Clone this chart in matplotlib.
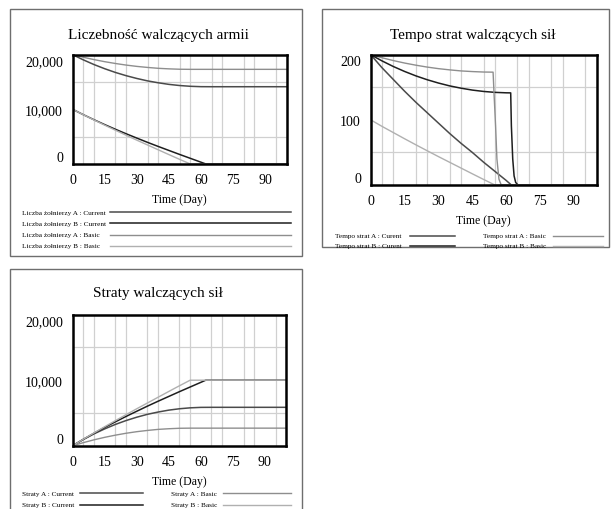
import matplotlib
matplotlib.use("Agg")
import matplotlib.pyplot as plt
from matplotlib.lines import Line2D
from matplotlib.patches import Rectangle

plt.rcParams['font.family'] = ['Liberation Serif', 'DejaVu Serif']

# --- data (days, values) ---
x_ticks = [0, 15, 30, 45, 60, 75, 90]
t5 = list(range(0, 101, 5))
days_b_cur = [0, 5, 10, 15, 20, 25, 30, 35, 40, 45, 50, 55, 60, 62.3, 100]
days_bas = [0, 5, 10, 15, 20, 25, 30, 35, 40, 45, 50, 55, 100]

# Liczebność walczących armii
liczba_a_current = [20000, 19050, 18190, 17430, 16750, 16160, 15650, 15210, 14860,
                    14570, 14360, 14220, 14150, 14140, 14140, 14140, 14140, 14140,
                    14140, 14140, 14140]
liczba_b_current = [10000, 9020, 8090, 7200, 6350, 5530, 4740, 3960, 3210, 2480,
                    1750, 1040, 330, 0, 0]
liczba_a_basic = [20000, 19530, 19100, 18720, 18390, 18100, 17860, 17670, 17510,
                  17410, 17340, 17320, 17320]
liczba_b_basic = [10000, 9010, 8050, 7100, 6170, 5260, 4360, 3480, 2600, 1720,
                  850, 0, 0]

# Tempo strat walczących sił
tempo_a_current = [200, 180, 162, 144, 127, 111, 95, 79, 64, 50, 35, 21, 7, 0, 0]
days_tb_cur = [0, 5, 10, 15, 20, 25, 30, 35, 40, 45, 50, 55, 60,
               62.0, 62.3, 62.9, 63.5, 64.2, 65.2, 100]
tempo_b_current = [200, 190.5, 181.9, 174.3, 167.5, 161.6, 156.5, 152.1, 148.6,
                   145.7, 143.6, 142.2, 141.5, 141.4, 91, 40, 14, 4, 0, 0]
tempo_a_basic = [100, 90, 80.5, 71, 61.7, 52.6, 43.6, 34.8, 26, 17.2, 8.5, 0, 0]
days_tb_bas = [0, 5, 10, 15, 20, 25, 30, 35, 40, 45, 50,
               54.2, 54.6, 55.3, 55.9, 56.8, 57.8, 100]
tempo_b_basic = [200, 195.3, 191, 187.2, 183.9, 181, 178.6, 176.7, 175.1, 174.1,
                 173.4, 173.2, 142, 91, 40, 9, 0, 0]

# Straty walczących sił
straty_a_current = [0, 950, 1810, 2570, 3250, 3840, 4350, 4790, 5140, 5430, 5640,
                    5780, 5850, 5860, 5860, 5860, 5860, 5860, 5860, 5860, 5860]
straty_b_current = [0, 980, 1910, 2800, 3650, 4470, 5260, 6040, 6790, 7520, 8250,
                    8960, 9670, 10000, 10000]
straty_a_basic = [0, 470, 900, 1280, 1610, 1900, 2140, 2330, 2490, 2590, 2660,
                  2680, 2680]
straty_b_basic = [0, 990, 1950, 2900, 3830, 4740, 5640, 6520, 7400, 8280, 9150,
                  10000, 10000]

C_A_CUR = '#4a4a4a'
C_B_CUR = '#1e1e1e'
C_A_BAS = '#8e8e8e'
C_B_BAS = '#b0b0b0'

W, H = 614, 510


def fx(px):
    return px / W


def fy(py):
    return 1 - py / H


def make_axes(fig, left, top, right, bottom, ymax, ylabels):
    ax = fig.add_axes([fx(left), fy(bottom), (right - left) / W, (bottom - top) / H])
    ax.set_xlim(0, 100)
    ax.set_ylim(0, ymax)
    ax.set_xticks(x_ticks)
    ax.set_xticklabels([str(t) for t in x_ticks], fontsize=10)
    ax.set_xticks(t5, minor=True)
    ax.set_yticks([0, ymax / 2, ymax])
    ax.set_yticklabels(ylabels, fontsize=10)
    ax.set_yticks([ymax * q / 4 for q in range(5)], minor=True)
    ax.grid(which='minor', color='#d0d0d0', lw=0.9)
    ax.tick_params(which='both', length=0)
    ax.tick_params(axis='x', pad=6.5)
    ax.tick_params(axis='y', pad=7)
    ticks = ax.yaxis.get_major_ticks()
    ticks[0].label1.set_va('bottom')
    ticks[-1].label1.set_va('top')
    for s in ax.spines.values():
        s.set_linewidth(1.8)
        s.set_color('black')
    ax.set_axisbelow(True)
    ax.set_xlabel('Time (Day)', fontsize=8.5, labelpad=5)
    return ax


def frame(fig, left, top, right, bottom):
    fig.add_artist(Rectangle((fx(left), fy(bottom)), (right - left) / W,
                             (bottom - top) / H, transform=fig.transFigure,
                             fill=False, ec='#6e6e6e', lw=1))


def legend_entry(fig, text, x_text, x0, x1, y, color, lw):
    fig.text(fx(x_text), fy(y), text, fontsize=5.2, va='center', ha='left')
    fig.add_artist(Line2D([fx(x0), fx(x1)], [fy(y), fy(y)],
                          transform=fig.transFigure, color=color, lw=lw))


def main():
    fig = plt.figure(figsize=(6.14, 5.10), dpi=100)

    # panel 1
    frame(fig, 10, 10, 302, 257)
    fig.text(fx(158), fy(35), 'Liczebność walczących armii', ha='center',
             va='center', fontsize=11)
    ax1 = make_axes(fig, 72.7, 55.7, 286.5, 165, 20000,
                    ['0', '10,000', '20,000'])
    ax1.plot(t5, liczba_a_current, color=C_A_CUR, lw=1.1)
    ax1.plot(days_b_cur, liczba_b_current, color=C_B_CUR, lw=1.1)
    ax1.plot(days_bas, liczba_a_basic, color=C_A_BAS, lw=1)
    ax1.plot(days_bas, liczba_b_basic, color=C_B_BAS, lw=1)
    rows = [('Liczba żołnierzy A : Current', C_A_CUR, 1.1),
            ('Liczba żołnierzy B : Current', C_B_CUR, 1.1),
            ('Liczba żołnierzy A : Basic', C_A_BAS, 1),
            ('Liczba żołnierzy B : Basic', C_B_BAS, 1)]
    for i, (txt, c, lw) in enumerate(rows):
        legend_entry(fig, txt, 21.5, 110, 291, 213.3 + i * 11.1, c, lw)

    # panel 2
    frame(fig, 322, 10, 609, 248)
    fig.text(fx(472.5), fy(35), 'Tempo strat walczących sił', ha='center',
             va='center', fontsize=11)
    ax2 = make_axes(fig, 370.7, 55.7, 596.5, 186, 200, ['0', '100', '200'])
    ax2.plot(days_b_cur, tempo_a_current, color=C_A_CUR, lw=1.1)
    ax2.plot(days_tb_cur, tempo_b_current, color=C_B_CUR, lw=1.1)
    ax2.plot(days_bas, tempo_a_basic, color=C_B_BAS, lw=1)
    ax2.plot(days_tb_bas, tempo_b_basic, color=C_A_BAS, lw=1)
    legend_entry(fig, 'Tempo strat A : Curent', 335, 410, 455, 236.7, C_A_CUR, 1.1)
    legend_entry(fig, 'Tempo strat B : Curent', 335, 410, 455, 246.7, C_B_CUR, 1.1)
    legend_entry(fig, 'Tempo strat A : Basic', 483, 553, 603, 236.7, C_A_BAS, 1)
    legend_entry(fig, 'Tempo strat B : Basic', 483, 553, 603, 246.7, C_B_BAS, 1)

    # panel 3
    frame(fig, 10, 270, 302, 520)
    fig.text(fx(157.5), fy(293.5), 'Straty walczących sił', ha='center',
             va='center', fontsize=11)
    ax3 = make_axes(fig, 72.7, 315.7, 286.2, 446.7, 20000,
                    ['0', '10,000', '20,000'])
    ax3.plot(t5, straty_a_current, color=C_A_CUR, lw=1.1)
    ax3.plot(days_b_cur, straty_b_current, color=C_B_CUR, lw=1.1)
    ax3.plot(days_bas, straty_a_basic, color=C_A_BAS, lw=1)
    ax3.plot(days_bas, straty_b_basic, color=C_B_BAS, lw=1)
    legend_entry(fig, 'Straty A : Current', 22, 80, 143, 494.3, C_A_CUR, 1.1)
    legend_entry(fig, 'Straty B : Current', 22, 80, 143, 505.7, C_B_CUR, 1.1)
    legend_entry(fig, 'Straty A : Basic', 171, 223, 291, 494.3, C_A_BAS, 1)
    legend_entry(fig, 'Straty B : Basic', 171, 223, 291, 505.7, C_B_BAS, 1)

    fig.savefig('out.png', dpi=100)


if __name__ == "__main__":
    main()
